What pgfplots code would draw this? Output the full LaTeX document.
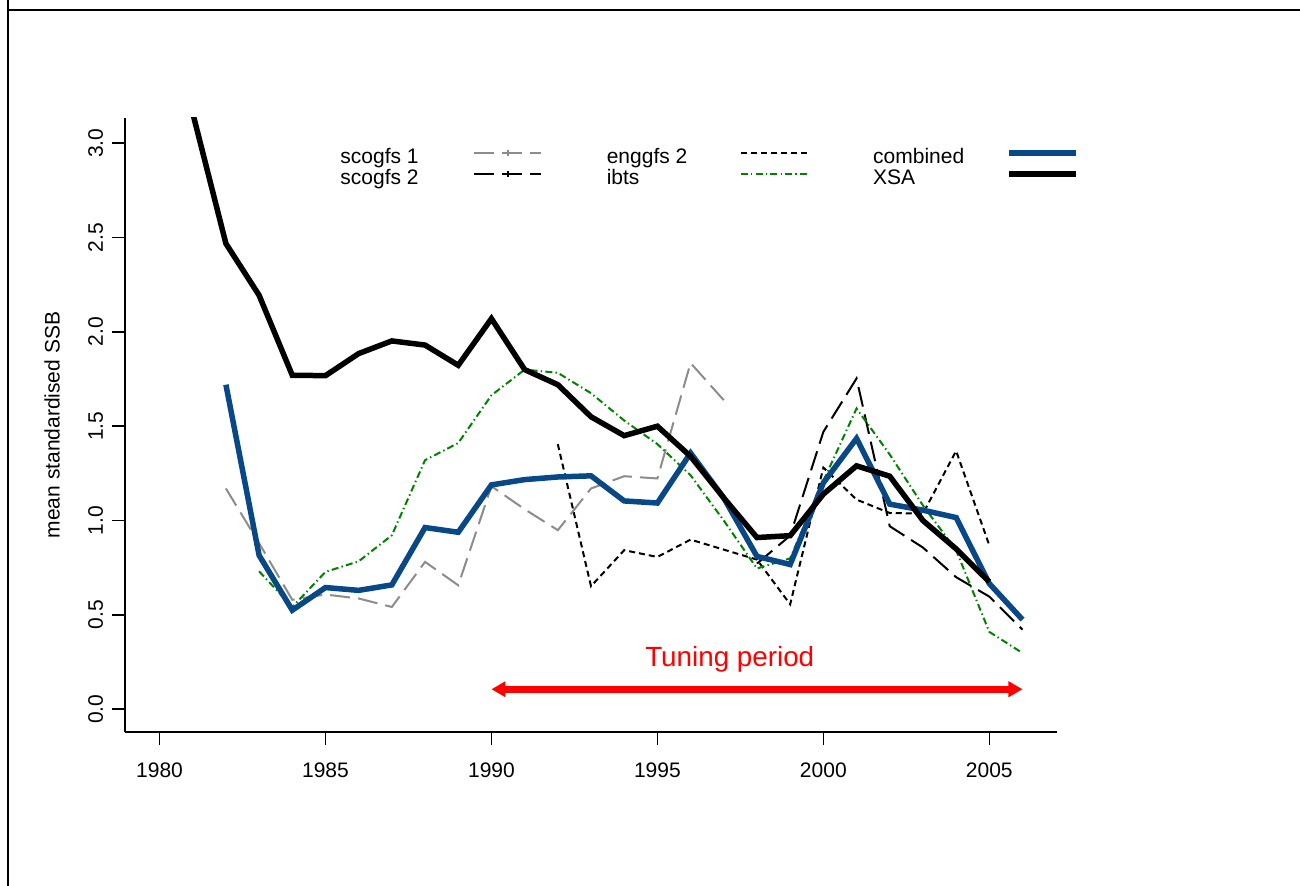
\documentclass[border=0pt]{standalone}
\usepackage{pgfplots}
\pgfplotsset{compat=1.18}
\usepackage{fontspec}
\setmainfont{Liberation Sans}
\usetikzlibrary{arrows.meta}
\definecolor{combblue}{HTML}{084887}
\definecolor{ibtsgreen}{RGB}{0,130,0}
\definecolor{scogray}{RGB}{140,140,140}
\newcommand\rf{\fontsize{10.5pt}{12pt}\selectfont}
\begin{document}
\begin{tikzpicture}
\path[use as bounding box] (0,0) rectangle (650pt,443pt);
\draw[line width=1pt] (4pt,0) -- (4pt,443pt);
\draw[line width=1pt] (4pt,438pt) -- (650pt,438pt);
\begin{axis}[
  at={(62.5pt,77pt)}, anchor=south west,
  scale only axis, width=466pt, height=307pt,
  xmin=1978.96, xmax=2007.04, ymin=-0.1205, ymax=3.1335,
  axis x line*=bottom, axis y line*=left,
  axis line style={-, line width=0.8pt},
  tick align=outside, major tick length=6.3pt,
  tick style={line width=0.8pt, black},
  xtick={1980,1985,1990,1995,2000,2005},
  xticklabels={1980,1985,1990,1995,2000,2005},
  ytick={0,0.5,1,1.5,2,2.5,3},
  yticklabels={0.0,0.5,1.0,1.5,2.0,2.5,3.0},
  xticklabel style={font=\rf, anchor=north, inner sep=0pt},
  yticklabel style={font=\rf, rotate=90, anchor=south, inner sep=0pt},
  xticklabel shift=9pt,
  yticklabel shift=4.5pt,
  ylabel={mean standardised SSB},
  ylabel style={font=\rf, at={(axis description cs:-0.0783,0.5)}, anchor=center},
  legend plot pos=right,
  legend columns=3,
  legend cell align=left,
  legend style={draw=none, fill=none, inner sep=0pt, at={(0.2307,0.952)}, anchor=north west,
    font=\rf, nodes={inner sep=0pt, text height=7.8pt, text depth=2.7pt}, row sep=0pt, column sep=0pt},
  legend image code/.code={
    \draw[#1, mark repeat=2, mark phase=2] plot coordinates {(0pt,2.75pt) (16.75pt,2.75pt) (33.5pt,2.75pt)};
  },
]
% scogfs 1
\addplot[forget plot, scogray, line width=1pt, dash pattern=on 10pt off 4pt] coordinates {
(1982,1.17) (1983,0.88) (1984,0.58) (1985,0.608) (1986,0.587) (1987,0.542) (1988,0.781)
(1989,0.657) (1990,1.182) (1991,1.06) (1992,0.949) (1993,1.17) (1994,1.235) (1995,1.223)
(1996,1.835) (1997,1.638)};
% scogfs 2
\addplot[forget plot, black, line width=1pt, dash pattern=on 10pt off 4pt] coordinates {
(1998,0.772) (1999,0.92) (2000,1.47) (2001,1.753) (2002,0.97) (2003,0.857) (2004,0.70)
(2005,0.597) (2006,0.422)};
% enggfs 2
\addplot[forget plot, black, line width=1pt, dash pattern=on 3pt off 2pt] coordinates {
(1992,1.405) (1993,0.652) (1994,0.843) (1995,0.807) (1996,0.899) (1997,0.846) (1998,0.793)
(1999,0.556) (2000,1.281) (2001,1.111) (2002,1.04) (2003,1.037) (2004,1.369) (2005,0.869)};
% ibts
\addplot[forget plot, ibtsgreen, line width=1pt, dash pattern=on 3.5pt off 1.6pt on 0.7pt off 1.6pt] coordinates {
(1983,0.731) (1984,0.542) (1985,0.728) (1986,0.784) (1987,0.922) (1988,1.32) (1989,1.411)
(1990,1.664) (1991,1.80) (1992,1.783) (1993,1.675) (1994,1.53) (1995,1.405) (1996,1.24)
(1997,1.00) (1998,0.746) (1999,0.80) (2000,1.21) (2001,1.594) (2002,1.35) (2003,1.08)
(2004,0.843) (2005,0.41) (2006,0.298)};
% combined
\addplot[forget plot, combblue, line width=2.75pt] coordinates {
(1982,1.72) (1983,0.816) (1984,0.525) (1985,0.645) (1986,0.63) (1987,0.659) (1988,0.963)
(1989,0.938) (1990,1.189) (1991,1.217) (1992,1.231) (1993,1.237) (1994,1.104) (1995,1.093)
(1996,1.358) (1997,1.12) (1998,0.81) (1999,0.767) (2000,1.20) (2001,1.435) (2002,1.087)
(2003,1.055) (2004,1.016) (2005,0.666) (2006,0.475)};
% XSA
\addplot[forget plot, black, line width=2.75pt] coordinates {
(1981,3.16) (1982,2.468) (1983,2.194) (1984,1.77) (1985,1.768) (1986,1.885) (1987,1.952)
(1988,1.93) (1989,1.823) (1990,2.07) (1991,1.80) (1992,1.72) (1993,1.55) (1994,1.45)
(1995,1.50) (1996,1.34) (1997,1.12) (1998,0.91) (1999,0.92) (2000,1.14) (2001,1.29)
(2002,1.235) (2003,1.00) (2004,0.85) (2005,0.675)};
% tuning period arrow
\addplot[forget plot, red, line width=3.5pt, {Triangle[length=7pt,width=7.5pt]}-{Triangle[length=7pt,width=7.5pt]}] coordinates {(1990,0.106) (2006,0.106)};
\node[red, font=\fontsize{13.9pt}{16pt}\selectfont] at (axis cs:1997.18,0.265) {Tuning period};
% legend (row-wise order)
\addlegendimage{scogray, line width=1pt, dash pattern=on 10pt off 4pt, mark=+, mark size=1.5pt, mark options={solid, line width=0.6pt}}
\addlegendentry{\makebox[66.5pt][l]{scogfs 1}}
\addlegendimage{black, line width=1pt, dash pattern=on 3pt off 2pt}
\addlegendentry{\hspace*{32.2pt}\makebox[66.5pt][l]{enggfs 2}}
\addlegendimage{combblue, line width=2.75pt}
\addlegendentry{\hspace*{32.2pt}\makebox[66.5pt][l]{combined}}
\addlegendimage{black, line width=1pt, dash pattern=on 10pt off 4pt, mark=+, mark size=1.5pt, mark options={solid, line width=0.6pt}}
\addlegendentry{\makebox[66.5pt][l]{scogfs 2}}
\addlegendimage{ibtsgreen, line width=1pt, dash pattern=on 3.5pt off 1.6pt on 0.7pt off 1.6pt}
\addlegendentry{\hspace*{32.2pt}\makebox[66.5pt][l]{ibts}}
\addlegendimage{black, line width=2.75pt}
\addlegendentry{\hspace*{32.2pt}\makebox[66.5pt][l]{XSA}}
\end{axis}
\end{tikzpicture}
\end{document}
